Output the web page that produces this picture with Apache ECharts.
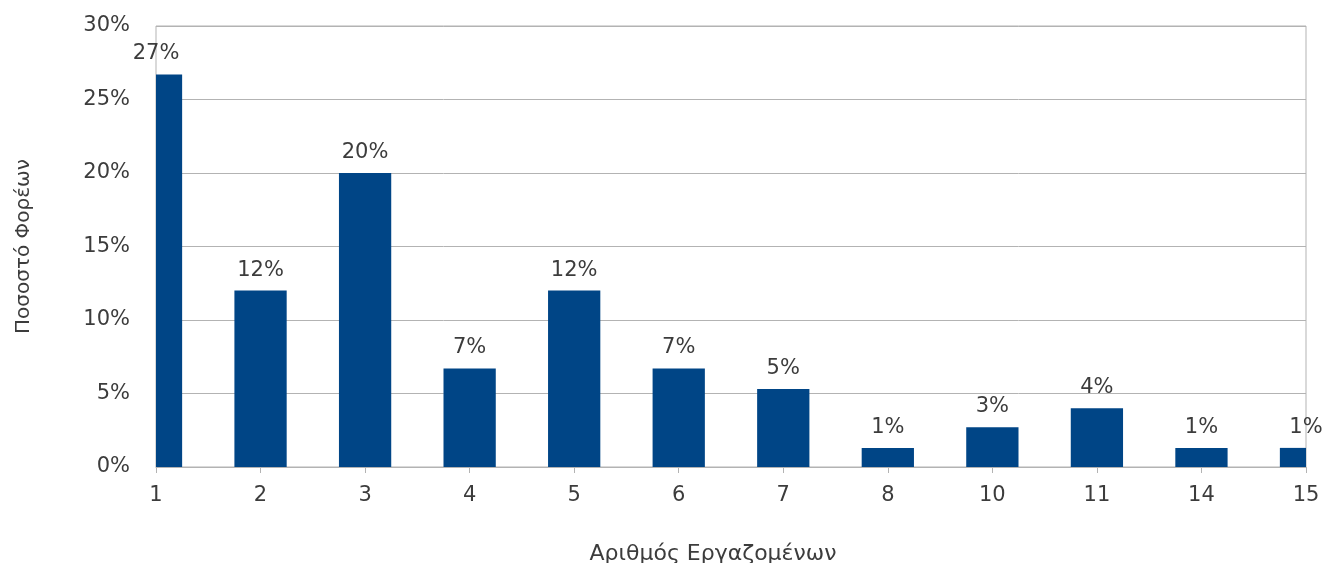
<!DOCTYPE html>
<html>
<head>
<meta charset="utf-8">
<script src="https://cdn.jsdelivr.net/npm/echarts@6/dist/echarts.min.js"></script>
<style>html,body{margin:0;padding:0;background:#fff}#c{width:1326px;height:563px}</style>
</head>
<body>
<div id="c"></div>
<script>
const categories = ['1','2','3','4','5','6','7','8','10','11','14','15'];
const percentValues = [26.7, 12.0, 20.0, 6.7, 12.0, 6.7, 5.3, 1.3, 2.7, 4.0, 1.3, 1.3];
const yTicks = [0, 5, 10, 15, 20, 25, 30];
const xTitle = 'Αριθμός Εργαζομένων';
const yTitle = 'Ποσοστό Φορέων';

const chart = echarts.init(document.getElementById('c'));
const txt = '#3c3c3c';
const font = 'DejaVu Sans';
const fs = 21;
chart.setOption({
  animation: false,
  grid: { left: 156, right: 20, top: 26, bottom: 96, show: true, borderColor: '#b3b3b3', borderWidth: 1,
          containLabel: false, outerBoundsMode: 'none' },
  xAxis: {
    type: 'category',
    data: categories,
    boundaryGap: false,
    name: xTitle,
    nameLocation: 'middle',
    nameGap: 76,
    nameTextStyle: { color: txt, fontSize: 22, fontFamily: font, padding: [0, 36, 0, 0] },
    axisLine: { lineStyle: { color: '#b3b3b3' } },
    axisTick: { show: true, length: 6, lineStyle: { color: '#b3b3b3' } },
    axisLabel: { color: txt, fontSize: fs, fontFamily: font, margin: 18 },
    splitLine: { show: false }
  },
  yAxis: {
    type: 'value',
    min: 0, max: 30, interval: 5,
    name: yTitle,
    nameLocation: 'middle',
    nameGap: 122,
    nameTextStyle: { color: txt, fontSize: 20, fontFamily: font },
    axisLine: { show: false },
    axisTick: { show: false },
    axisLabel: { color: txt, fontSize: fs, fontFamily: font, margin: 26,
      formatter: v => yTicks.includes(v) ? v + '%' : '' },
    splitLine: { lineStyle: { color: '#b3b3b3' } }
  },
  series: [{
    type: 'custom',
    data: percentValues.map((v, i) => [i, v]),
    encode: { x: 0, y: 1 },
    renderItem: function (params, api) {
      const idx = api.value(0);
      const val = api.value(1);
      const top = api.coord([idx, val]);
      const base = api.coord([idx, 0]);
      const w = api.size([1, 0])[0] * 0.5;
      const cs = params.coordSys;
      const rect = echarts.graphic.clipRectByRect(
        { x: top[0] - w / 2, y: top[1], width: w, height: base[1] - top[1] },
        { x: cs.x, y: cs.y, width: cs.width, height: cs.height }
      );
      return {
        type: 'group',
        children: [
          { type: 'rect', shape: rect, style: { fill: '#004586' } },
          { type: 'text', x: top[0], y: top[1] - 10,
            style: { text: Math.round(val) + '%', fill: txt, font: fs + 'px "DejaVu Sans"',
                     textAlign: 'center', textVerticalAlign: 'bottom' } }
        ]
      };
    }
  }]
});
</script>
</body>
</html>
